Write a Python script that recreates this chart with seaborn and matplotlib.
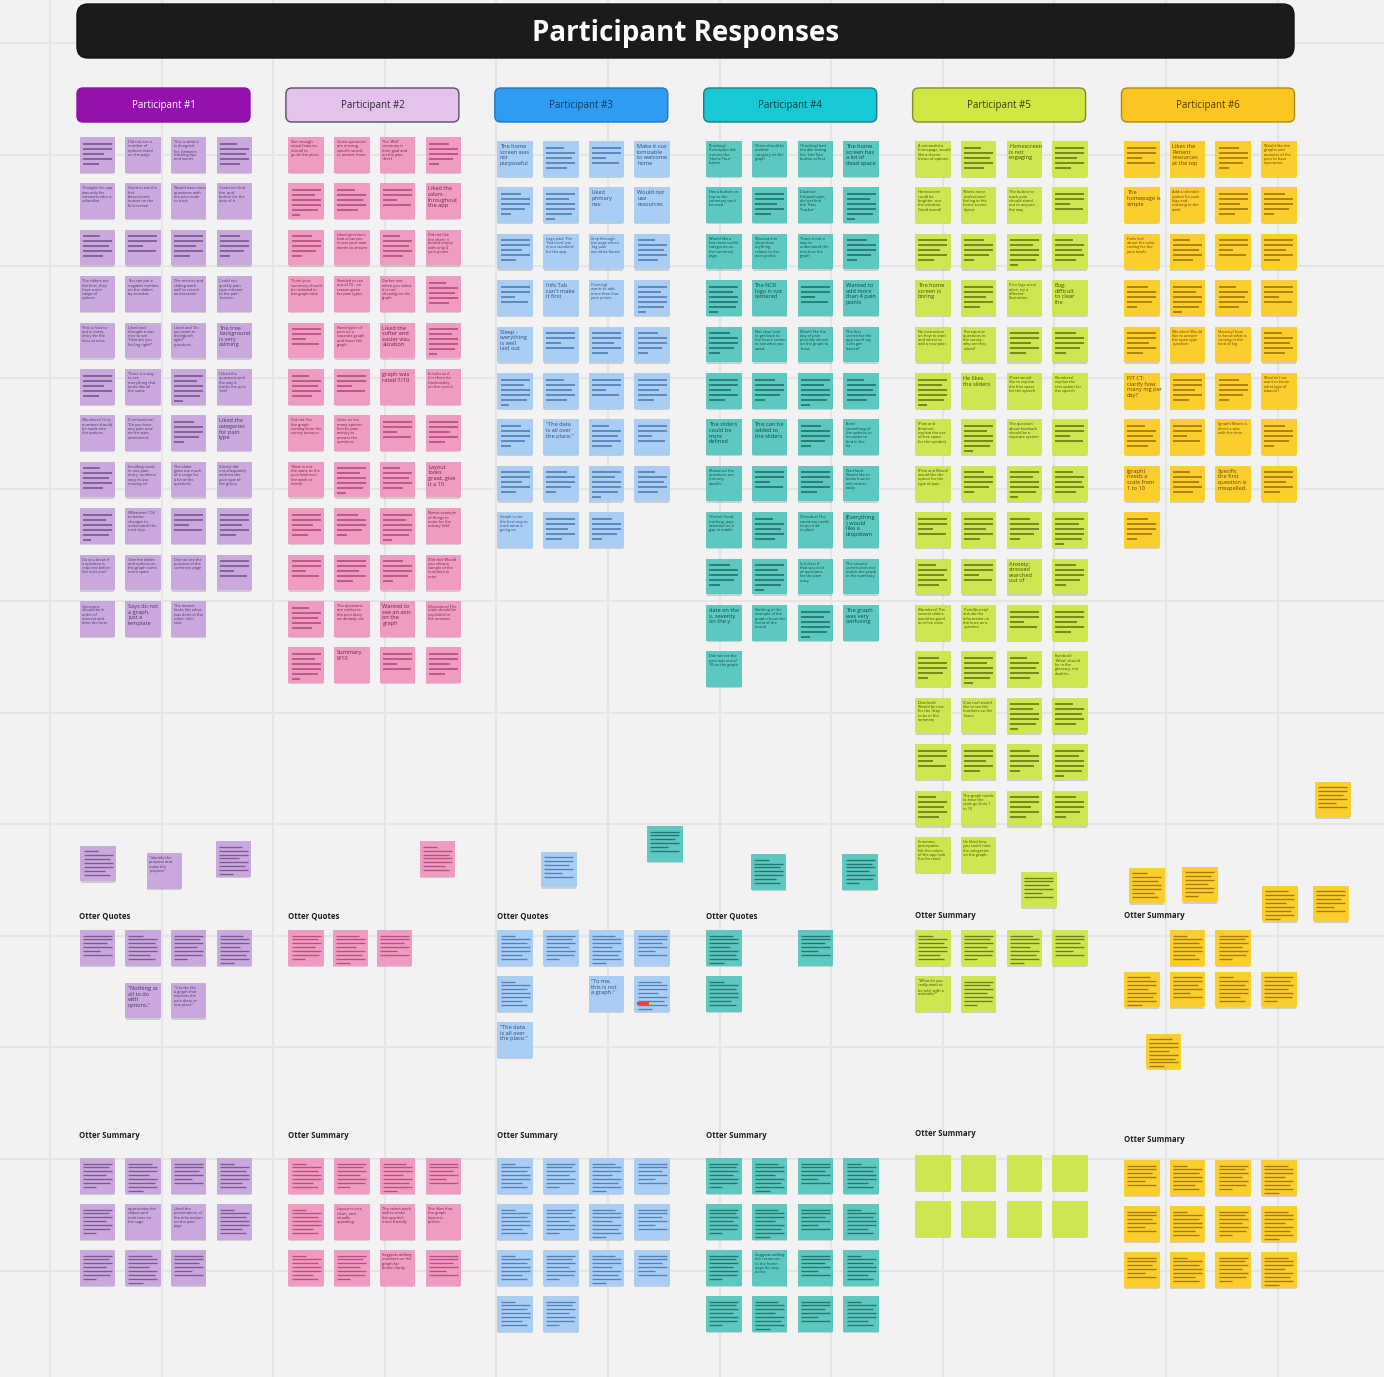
"""
plot.py

Affinity board of participant responses: one column of sticky notes per
participant, then the Otter quotes and Otter summary notes below.
"""

import textwrap

import matplotlib
matplotlib.use("Agg")
import matplotlib.pyplot as plt
from matplotlib.patches import FancyBboxPatch, Rectangle
import numpy as np
import pandas as pd
import seaborn as sns

# ---------------------------------------------------------------- data
# "" = note holding a blurred block of text (drawn as bars), None = empty note
TITLE = "Participant Responses"
PARTICIPANTS = ["Participant #1", "Participant #2", "Participant #3",
                "Participant #4", "Participant #5", "Participant #6"]
MID_LABELS = ["Otter Quotes", "Otter Quotes", "Otter Quotes",
              "Otter Quotes", "Otter Summary", "Otter Summary"]
BOTTOM_LABEL = "Otter Summary"

P1_MAIN = [
    ["", "Did not see a number of options listed on the page", "This is what it is designed for, between tracking tips and words", ""],
    ["Thought the app was only for someone who is unfamiliar", "Good to see the first Assessment button on the first screen", "Would have more questions with the pain scale to track", "Could not find the 'quit' button for the date of it"],
    ["", "", "", ""],
    ["The sliders are the best, they have a nice range of options", "You can put a negative number on the sliders by accident", "The metrics and sliding work well to record conversation", "Could not quickly pain type relevant to the pain location"],
    ["This is how to put in every entry for the lines at once", "Liked and thought it was nice to see 'How are you feeling right?'", "Liked and 'Do you want to distinguish right?' questions", "The tree background is very calming"],
    ["", "There is a way to see everything that looks like all the same", "", "I liked the questions and the way it tracks the pain level"],
    ["(Numbers) Only numbers should be made into the options", "(Confused on) 'Do you have any pain now' on the pain assessment", "", "Liked the categories for pain type"],
    ["", "Scrolling reads in one pain entry, numbers easy to use, moving on", "The slider gives too much of a range for a lot of the questions", "(Likely) did not adequately address the pain type of the group"],
    ["", "(Whatever) 'Ok' to better changes to understand the next step", "", ""],
    ["Do you know if a question is required before the next one?", "Give the tables and options on the graph some more space", "Did not see the purpose of the summary page", ""],
    ["Questions should be in order of interest and then the form", "Says do not a graph, just a template", "The answer looks like what was done at the other clinic visit"],
]
P2_MAIN = [
    ["Not enough visual features overall to guide the plans", "Some questions are missing specific words to answer them", "The 'Well' summary is their goal and on the pain sheet", ""],
    ["", "", "", "Liked the colors throughout the app"],
    ["", "Liked questions that allow you to use your own words to answer", "", "Did not like the chart, it looked empty with only 4 pain points"],
    ["Think your summary should be included in the graph view", "Needed to see out of 10 - no reason given for pain types", "Darker text when you select it is not showing on the graph", ""],
    ["", "Need types of pain on a separate graph and lower the graph", "Liked the softer and easier visualization", ""],
    ["", "", "graph was rated 7/10", "It looks as if it is there for functionality on the screen"],
    ["Did not like the graph coming from the survey answers", "Gives us too many options for the pain activity to answer the questions", "", ""],
    ["'Now' is not the same as the pain level over the week or month", "", "", "Layout looks great, give it a 10"],
    ["", "", "", "Needs example of things to enter for the activity field"],
    ["", "", "", "(Did the) Would you show a sample of the numbers to enter"],
    ["", "The questions are similar to the pain diary we already use", "Wanted to see an axis on the graph", "(Questions) The scale should be explained in the answers"],
    ["", "Summary 9/10", "", ""],
]
P3_MAIN = [
    ["The home screen was not purposeful ?", "", "", "Make it customizable to welcome home"],
    ["", "", "Liked primary nav.", "Would not use resources"],
    ["", "Logo part: The 'Sea Level' pie is not standard for the app", "Step through the page where 'log pain' would be found", ""],
    ["", "Info Tab can't make it first", "(Painting) wants to add more than four pain points", ""],
    ["Sleep - everything is well laid out", "", "", ""],
    ["", "", "", ""],
    ["", "\"The data is all over the place.\"", "", ""],
    ["", "", "", ""],
    ["Graph is not the best way to track what is going on", "", ""],
]
P4_MAIN = [
    ["(Tracking) Participant did not see the 'Home Tour' button", "There should be another category on the graph", "(Tracking) had trouble seeing the 'Get Tips' button at first", "The home screen has a lot of dead space"],
    ["Has a button on top so the summary can't be used", "", "(Caution) (Unpaid) pain, did not find the 'Pain Tracker'", ""],
    ["Would like a few more useful categories on the summary page", "Wanted it to show how anything relates to the pain points", "There is not a way to understand the trend on the graph", ""],
    ["", "The NCR logo is not centered", "", "Wanted to add more than 4 pain points"],
    ["", "Not clear how to get back to the home screen to see what you saved", "Would like the day of pain possibly shown on the graph to know", "The first screen for the app could say 'Let's get started?'"],
    ["", "", "", ""],
    ["The sliders could be more defined", "This can be added to the sliders", "", "(Sort) something of the options to be easier to find in the list"],
    ["(Rated so) the questions are not very specific", "", "", "(Sad face) Would like to know how to edit entries easily"],
    ["(Vision) Good tracking, pays attention to a gap in intake", "", "(Overdue) The summary needs to put it all in place", "(Everything) would like a dropdown"],
    ["", "", "Is it clear if that was a lot of questions for the pain entry", "The second screen does not match the graph in the summary"],
    ["date on the x, severity on the y", "Nothing in the example of the graph shows the trend of the record", "", "The graph was very confusing"],
    ["Did not see the pain was out of 10 on the graph"],
]
P5_MAIN = [
    ["A minimalistic homepage, would like a clearer menu of options", "", "Homescreen is not engaging", ""],
    ["Homescreen could be brighter, not the extreme. Good overall", "Wants more professional feeling in the home screen layout", "The button to track pain should stand out to anyone - the way", ""],
    ["", "", "", ""],
    ["The home screen is boring", "", "Pain logs seem plain, try a different illustration", "Bug: difficult to clear the responses"],
    ["No instruction on how to start and where to add a new pain", "Prerequisite questions to the survey - why are they asked?", "", ""],
    ["", "He likes the sliders", "(Pain) would like to explain the free space for the speech", "(Numbers) explain the text option for the speech"],
    ["(Pain and Emotion) explain the use of free space for the symbols", "", "The question about feedback should be a separate system", ""],
    ["(Pain and Mood) would like the option for the type of pain", "", "", ""],
    ["", "", "", ""],
    ["", "", "Anxiety: stressed searched out of place", ""],
    ["(Numbers) The several sliders would be good as inline ones", "(Pain/Anxiety) include the information in the form as a question", "", ""],
    ["", "", "", "(Symbols) 'What' should be in the glossary, not doubles"],
    ["(Overlook) Would be nice for the 'Stay' to be in the summary", "(Can not) would like to see the numbers on the hours", "", ""],
    ["", "", "", ""],
    ["", "The graph needs to have the scale go from 1 to 10", "", ""],
    ["Summary: participants felt the colors of the app look fun for most", "He liked how you could color the categories on the graph"],
]
P6_MAIN = [
    ["", "Likes the Patient resources at the top", "", "Would like the graphs and answers of the pain to have separation"],
    ["The homepage is simple", "Add a calendar option for pain logs and tracking to the week", "", ""],
    ["Feels lost about the color coding for the pain levels", "", "", ""],
    ["", "", "", ""],
    ["", "(Number) Would like to answer the open type question", "(Anxiety) how to know what is coming in the kind of log", ""],
    ["PIT CT: clarify how many mg per day?", "", "", "Wouldn't we want to know what type of tobacco?"],
    ["", "", "(graph) Wants a direct x-axis with the time", ""],
    ["(graph) needs a scale from 1 to 10", "", "Specific the first question is misspelled.", ""],
    [""],
]
MAIN_NOTES = [P1_MAIN, P2_MAIN, P3_MAIN, P4_MAIN, P5_MAIN, P6_MAIN]

P1_MID = ["", "\"Identify the purpose and make the purpose\"", "", "", "", "", "",
          "\"Nothing at all to do with options.\"",
          "\"It looks like a graph that explains the pain diary in one place.\""]
P2_MID = ["", "", "", ""]
P3_MID = ["", "", "", "", "", "", "\"To me, this is not a graph.\"", "",
          "\"The data is all over the place.\""]
P4_MID = ["", "", "", "", "", ""]
P5_MID = ["", "", "", "", "", "\"What do you really want to be told, with a reminder?\"", ""]
P6_MID = ["", "", "", "", "", "", "", "", "", "", "", ""]
MID_NOTES = [P1_MID, P2_MID, P3_MID, P4_MID, P5_MID, P6_MID]

P1_BOTTOM = [["", "", "", ""],
             ["", "appreciates the sliders and took time on the sage", "Liked the presentation of the information on the pain page", ""],
             ["", "", ""]]
P2_BOTTOM = [["", "", "", ""],
             ["", "Layout is nice, clean, and visually appealing", "The colors work well to make the app feel more friendly", "She likes that the graph layout is perfect."],
             ["", "", "Suggests adding numbers on the graph for better clarity", ""]]
P3_BOTTOM = [["", "", "", ""], ["", "", "", ""], ["", "", "", ""], ["", ""]]
P4_BOTTOM = [["", "", "", ""], ["", "", "", ""],
             ["", "Suggests adding the resources to the home page for easy access", "", ""],
             ["", "", "", ""]]
P5_BOTTOM = [[None, None, None, None], [None, None, None, None]]
P6_BOTTOM = [["", "", "", ""], ["", "", "", ""], ["", "", "", ""]]
BOTTOM_NOTES = [P1_BOTTOM, P2_BOTTOM, P3_BOTTOM, P4_BOTTOM, P5_BOTTOM, P6_BOTTOM]

# ---------------------------------------------------------------- layout / styles
W, H = 1384, 1377
HEADER_COLORS = ["#9411ae", "#e3c3ec", "#2f9cf1", "#17c8d5", "#cfe643", "#fcc620"]
HEADER_EDGES = ["#8a10a3", "#5d4d63", "#2477bd", "#1f7d86", "#7f8f27", "#ad8712"]
HEADER_TEXT = ["white", "#2c2330", "#123a60", "#0c3d42", "#344006", "#4d3a00"]
NOTE_COLORS = ["#c9a8de", "#f09cc2", "#aacdf4", "#5cc8bf", "#d0e650", "#fbcd2d"]
BAR_COLORS = ["#7a5a95", "#b6507f", "#5282b5", "#23776f", "#6a7f19", "#a47a06"]
INK_COLORS = ["#4a3560", "#6b2448", "#264d78", "#0e4843", "#3e4c08", "#5e4500"]

HEADER_X0, HEADER_STEP, HEADER_W = 77, 208.9, 173
NOTE = 35.5                       # sticky note side, px
COL_STEP, MAIN_ROW_STEP, LOW_ROW_STEP = 45.7, 46.4, 46.0
MAIN_TOP = [137, 137, 141, 141, 141, 141]
MID_TOP = 930
MID_LABEL_Y = 916
BOTTOM_TOP = [1158, 1158, 1158, 1158, 1155, 1160]
BOTTOM_LABEL_Y = [1136, 1136, 1136, 1136, 1133, 1139]

# slot (col, row) of every middle note, relative to the Otter Quotes grid
MID_SLOTS = [
    [(0.02, -1.83), (1.47, -1.67), (2.98, -1.93), (0, 0), (1, 0), (2, 0), (3, 0), (1, 1.15), (2, 1.15)],
    [(2.87, -1.93), (0, 0), (0.97, 0), (1.93, 0)],
    [(0.96, -1.7), (0, 0), (1, 0), (2, 0), (3, 0), (0, 1), (2, 1), (3, 1), (0, 2)],
    [(-1.29, -2.26), (0.98, -1.65), (2.98, -1.65), (0, 0), (2, 0), (0, 1)],
    [(2.32, -1.26), (0, 0), (1, 0), (2, 0), (3, 0), (0, 1), (1, 1)],
    [(4.18, -3.22), (0.11, -1.35), (1.27, -1.37), (3.02, -0.96), (4.14, -0.96),
     (1, 0), (2, 0), (0, 0.91), (1, 0.91), (2, 0.91), (3, 0.91), (0.48, 2.25)],
]
RED_MARK = (2, 7)  # participant index, middle note index

MAIN_BARS = [[1.0, 1.0, 0.75, 1.0, 0.55], [0.7, 1.0, 1.0, 0.85, 0.35],
             [1.0, 0.8, 1.0, 1.0, 0.9, 0.3], [0.6, 1.0, 0.9, 1.0, 0.7],
             [1.0, 1.0, 0.5, 0.95]]
LOW_BARS = [[1.0, 0.9, 1.0, 0.8, 1.0, 0.95, 0.45], [0.8, 1.0, 1.0, 0.7, 1.0, 0.9, 1.0, 0.5],
            [1.0, 1.0, 0.85, 1.0, 0.6, 1.0], [0.5, 1.0, 0.9, 1.0, 1.0, 0.75, 0.9]]

FONT = ["Open Sans", "DejaVu Sans"]


def note_left(p):
    return HEADER_X0 + HEADER_STEP * p + 2.5


def build_notes():
    rows = []
    for p in range(6):
        x0 = note_left(p)
        for r, row in enumerate(MAIN_NOTES[p]):
            for c, txt in enumerate(row):
                rows.append(dict(who=PARTICIPANTS[p], p=p, style="main", text=txt,
                                 left=x0 + c * COL_STEP, top=MAIN_TOP[p] + r * MAIN_ROW_STEP))
        for k, (txt, (c, r)) in enumerate(zip(MID_NOTES[p], MID_SLOTS[p])):
            rows.append(dict(who=PARTICIPANTS[p], p=p, style="low", text=txt, mid=k,
                             left=x0 + c * COL_STEP, top=MID_TOP + r * LOW_ROW_STEP))
        for r, row in enumerate(BOTTOM_NOTES[p]):
            for c, txt in enumerate(row):
                rows.append(dict(who=PARTICIPANTS[p], p=p, style="low", text=txt,
                                 left=x0 + c * COL_STEP, top=BOTTOM_TOP[p] + r * LOW_ROW_STEP))
    df = pd.DataFrame(rows)
    df["cx"] = df["left"] + NOTE / 2
    df["cy"] = df["top"] + NOTE / 2
    return df


def draw_bars(ax, note, k):
    main = note["style"] == "main"
    tmpl = (MAIN_BARS if main else LOW_BARS)[k % (5 if main else 4)]
    y = note["top"] + (6.5 if main else 5.5)
    step = 5.0 if main else 3.9
    inner = NOTE - 6.5
    for frac in tmpl:
        ax.hlines(y, note["left"] + 3.2, note["left"] + 3.2 + inner * frac,
                  color=BAR_COLORS[note["p"]], lw=1.25 if main else 0.95, zorder=5)
        y += step


def draw_text(ax, note):
    txt = note["text"]
    if len(txt) <= 42:
        lines, fs, ls = textwrap.wrap(txt, 11)[:4], 4.1, 1.15
    else:
        lines, fs, ls = textwrap.wrap(txt, 15)[:6], 2.8, 1.1
    ax.text(note["left"] + 2.6, note["top"] + 3.0, "\n".join(lines), fontsize=fs,
            family=FONT, color=INK_COLORS[note["p"]], ha="left", va="top",
            linespacing=ls, zorder=5)


sns.set_theme(style="white")
plt.rcParams["font.family"] = FONT

fig = plt.figure(figsize=(W / 100, H / 100), dpi=100, facecolor="#f2f2f2")
ax = fig.add_axes([0, 0, 1, 1])
ax.set_facecolor("#f2f2f2")

# board grid
for gx in np.arange(50, W, 111.6):
    ax.axvline(gx, color="#e5e5e5", lw=1.5, zorder=0)
for gy in np.arange(43, H, 111.6):
    ax.axhline(gy, color="#e5e5e5", lw=1.5, zorder=0)

# title bar
ax.add_patch(FancyBboxPatch((77, 4), 1217, 54, boxstyle="round,pad=0,rounding_size=11",
                            fc="#1b1b1b", ec="#111111", lw=1, zorder=2))
ax.text(686, 34, TITLE, color="white", fontsize=20, fontweight="bold",
        ha="center", va="center", zorder=3)

# participant headers and section labels
for p, name in enumerate(PARTICIPANTS):
    hx = HEADER_X0 + HEADER_STEP * p
    ax.add_patch(FancyBboxPatch((hx, 88), HEADER_W, 34, boxstyle="round,pad=0,rounding_size=6",
                                fc=HEADER_COLORS[p], ec=HEADER_EDGES[p], lw=1, zorder=2))
    ax.text(hx + HEADER_W / 2, 105.5, name, color=HEADER_TEXT[p], fontsize=7,
            ha="center", va="center", zorder=3)
    ax.text(hx + 2, MID_LABEL_Y, MID_LABELS[p], color="#1e1e1e", fontsize=5.6,
            fontweight="bold", ha="left", va="center", zorder=3)
    ax.text(hx + 2, BOTTOM_LABEL_Y[p], BOTTOM_LABEL, color="#1e1e1e", fontsize=5.6,
            fontweight="bold", ha="left", va="center", zorder=3)

notes = build_notes()
side_pt = NOTE * 72 / 100
palette = dict(zip(PARTICIPANTS, NOTE_COLORS))

# soft shadow under each note, then the notes themselves
shadow = notes.assign(cy=notes["cy"] + 2.2)
sns.scatterplot(data=shadow, x="cx", y="cy", color="#6e6e6e", alpha=0.28, marker="s",
                s=(side_pt - 1.2) ** 2, linewidth=0, legend=False, ax=ax, zorder=3)
sns.scatterplot(data=notes, x="cx", y="cy", hue="who", palette=palette, marker="s",
                s=side_pt ** 2, linewidth=0, legend=False, ax=ax, zorder=4)

for k, note in notes.iterrows():
    if note["text"] is None:
        continue
    if note["text"] == "":
        draw_bars(ax, note, k)
    else:
        draw_text(ax, note)
    if note["p"] == RED_MARK[0] and note.get("mid") == RED_MARK[1]:
        ax.add_patch(Rectangle((note["left"] + 2.5, note["top"] + NOTE - 10), 12, 3.5,
                               fc="#e8433a", ec="none", zorder=6))

ax.set_xlim(0, W)
ax.set_ylim(H, 0)
ax.axis("off")
fig.savefig("out.png", dpi=100, facecolor=fig.get_facecolor())
